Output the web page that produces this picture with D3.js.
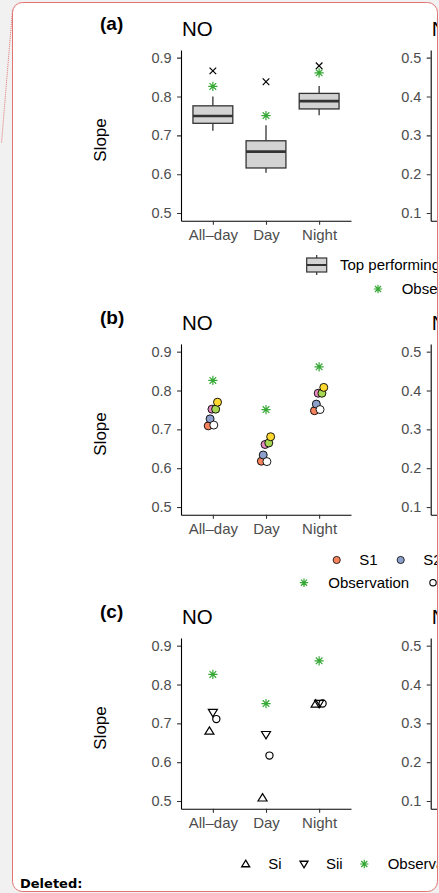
<!DOCTYPE html>
<html><head><meta charset="utf-8">
<script src="https://cdn.jsdelivr.net/npm/d3@7"></script>
<style>
html,body{margin:0;padding:0;background:#f1f1f1;}
svg{display:block;font-family:"Liberation Sans",Arial,Helvetica,sans-serif;}
</style></head><body>
<svg id="fig" width="439" height="893"></svg>
<script>
// ---- data ----
const categories = ["All\u2013day", "Day", "Night"];
const yTicksNO = [0.5, 0.6, 0.7, 0.8, 0.9];
const yTicksNO2 = [0.1, 0.2, 0.3, 0.4, 0.5];
const panelLetters = ["(a)", "(b)", "(c)"];

// (a) spread of the top performing simulations
const boxLower  = [0.712, 0.604, 0.752];
const boxQ1     = [0.731, 0.616, 0.768];
const boxMedian = [0.750, 0.658, 0.788];
const boxQ3     = [0.776, 0.686, 0.808];
const boxUpper  = [0.800, 0.726, 0.827];
const bestSimulation = [0.866, 0.838, 0.879];

// observed slope, shared by all panels
const observation = [0.826, 0.751, 0.861];

// (b) individual simulations
const seriesB = ["S1", "S2", "S3", "S4", "S5", "S6"];
const colorsB = ["#f8845f", "#8da0cb", "#e78ac3", "#ffffff", "#a6d854", "#ffd92f"];
const valuesB = [
  [0.709, 0.618, 0.748],
  [0.727, 0.634, 0.765],
  [0.752, 0.661, 0.793],
  [0.711, 0.617, 0.751],
  [0.752, 0.665, 0.793],
  [0.770, 0.681, 0.808]
];

// (c) simulation groups
const seriesC = ["Si", "Sii", "Siii"];
const valuesC = [
  [0.680, 0.508, 0.750],
  [0.728, 0.671, 0.751],
  [0.711, 0.617, 0.751]
];

// ---- drawing ----
const svg = d3.select("#fig");
const GREEN = "#36a836";
const FRAME = "#e27474";
const VIEW_W = 437;

// comment frame
svg.append("rect").attr("width", 439).attr("height", 893).attr("fill", "#f1f1f1");
svg.append("line").attr("x1", 12.5).attr("y1", 10).attr("x2", 1.5).attr("y2", 143)
  .attr("stroke", FRAME).attr("stroke-width", 1).attr("stroke-dasharray", "1 1");
svg.append("rect").attr("x", 12.5).attr("y", 2.5).attr("width", 425).attr("height", 889)
  .attr("rx", 10).attr("fill", "#fff").attr("stroke", FRAME).attr("stroke-width", 1);

svg.append("defs").append("clipPath").attr("id", "inside")
  .append("rect").attr("x", 13).attr("y", 3).attr("width", 424).attr("height", 888).attr("rx", 9.5);
const root = svg.append("g").attr("clip-path", "url(#inside)");

// marker paths
const asterisk = r => `M${-r},0H${r}M0,${-r}V${r}M${-r*0.72},${-r*0.72}L${r*0.72},${r*0.72}M${-r*0.72},${r*0.72}L${r*0.72},${-r*0.72}`;
const cross = r => `M${-r},${-r}L${r},${r}M${-r},${r}L${r},${-r}`;
const triUp = r => `M0,${-r}L${r*1.05},${r*0.72}L${-r*1.05},${r*0.72}Z`;
const triDown = r => `M0,${r}L${r*1.05},${-r*0.72}L${-r*1.05},${-r*0.72}Z`;

const PANEL_STEP = 294;

function drawAxes(g, x0, x1, domain, ticks, title, dy, xLabels) {
  const y = d3.scaleLinear().domain(domain).range([220.8 + dy, 49.9 + dy]);
  const x = d3.scalePoint().domain(categories).range([x0, x1]).padding(0.6);

  const ya = g.append("g").attr("transform", `translate(${x0},0)`)
    .call(d3.axisLeft(y).tickValues(ticks).tickSize(4).tickSizeOuter(0).tickPadding(5.3)
      .tickFormat(d3.format(".1f")));
  const xAxis = d3.axisBottom(x).tickSize(4).tickSizeOuter(0).tickPadding(4.5);
  if (!xLabels) xAxis.tickValues([]);
  const xa = g.append("g").attr("transform", `translate(0,${220.8 + dy})`).call(xAxis);
  [ya, xa].forEach(a => {
    a.select(".domain").attr("stroke", "#000").attr("stroke-width", 1.1);
    a.selectAll(".tick line").attr("stroke", "#333").attr("stroke-width", 1.1);
    a.selectAll(".tick text").attr("fill", "#4d4d4d")
      .style("font-family", '"Liberation Sans",Arial,sans-serif');
  });
  ya.selectAll(".tick text").attr("font-size", 14.5);
  xa.selectAll(".tick text").attr("font-size", 15);

  g.append("text").attr("x", x0 + 1).attr("y", 36 + dy).attr("font-size", 20.5)
    .attr("fill", "#000").text(title);
  return { x, y };
}

// legend entries are only laid out while they start inside the frame
const visible = lx => lx < VIEW_W;

for (let p = 0; p < 3; p++) {
  const dy = p * PANEL_STEP;
  const g = root.append("g");

  g.append("text").attr("x", 100).attr("y", 29.5 + dy).attr("font-size", 19)
    .attr("font-weight", "bold").text(panelLetters[p]);
  g.append("text").attr("transform", `translate(105.5,${140 + dy}) rotate(-90)`)
    .attr("text-anchor", "middle").attr("font-size", 17).text("Slope");

  const { x, y } = drawAxes(g, 181, 351, [0.48, 0.92], yTicksNO, "NO", dy, true);
  drawAxes(g, 430.7, 600.7, [0.08, 0.52], yTicksNO2, "NO2", dy, false);

  const step = x.step();

  if (p === 0) {
    const bw = step * 0.75;
    categories.forEach((c, i) => {
      const cx = x(c);
      g.append("line").attr("x1", cx).attr("x2", cx).attr("y1", y(boxUpper[i])).attr("y2", y(boxQ3[i]))
        .attr("stroke", "#333").attr("stroke-width", 1.3);
      g.append("line").attr("x1", cx).attr("x2", cx).attr("y1", y(boxQ1[i])).attr("y2", y(boxLower[i]))
        .attr("stroke", "#333").attr("stroke-width", 1.3);
      g.append("rect").attr("x", cx - bw / 2).attr("width", bw)
        .attr("y", y(boxQ3[i])).attr("height", y(boxQ1[i]) - y(boxQ3[i]))
        .attr("fill", "#d3d3d3").attr("stroke", "#333").attr("stroke-width", 1.3);
      g.append("line").attr("x1", cx - bw / 2).attr("x2", cx + bw / 2)
        .attr("y1", y(boxMedian[i])).attr("y2", y(boxMedian[i]))
        .attr("stroke", "#333").attr("stroke-width", 2.6);
      g.append("path").attr("transform", `translate(${cx},${y(bestSimulation[i])})`)
        .attr("d", cross(3.3)).attr("stroke", "#000").attr("stroke-width", 1.2).attr("fill", "none");
      g.append("path").attr("transform", `translate(${cx},${y(observation[i])})`)
        .attr("d", asterisk(4.6)).attr("stroke", GREEN).attr("stroke-width", 1.2).attr("fill", "none");
    });

    // legend: box key, then the observation key
    const lk = g.append("g").attr("transform", `translate(316.7,${265 + dy})`);
    lk.append("line").attr("y1", -10).attr("y2", 10).attr("stroke", "#333").attr("stroke-width", 1.2);
    lk.append("rect").attr("x", -10).attr("y", -7).attr("width", 20).attr("height", 14)
      .attr("fill", "#d3d3d3").attr("stroke", "#333").attr("stroke-width", 1.2);
    lk.append("line").attr("x1", -10).attr("x2", 10).attr("stroke", "#333").attr("stroke-width", 2);
    g.append("text").attr("x", 340).attr("y", 270.3 + dy).attr("font-size", 15).text("Top performing simulations");
    g.append("path").attr("transform", `translate(378,${289 + dy})`).attr("d", asterisk(4.2))
      .attr("stroke", GREEN).attr("stroke-width", 1.2).attr("fill", "none");
    g.append("text").attr("x", 401.7).attr("y", 294.3 + dy).attr("font-size", 15).text("Observation");
  }

  if (p === 1) {
    const n = seriesB.length;
    const dodge = step * 0.035;
    categories.forEach((c, i) => {
      g.append("path").attr("transform", `translate(${x(c)},${y(observation[i])})`)
        .attr("d", asterisk(4.6)).attr("stroke", GREEN).attr("stroke-width", 1.2).attr("fill", "none");
    });
    seriesB.forEach((s, k) => {
      const off = (k - (n - 1) / 2) * dodge;
      g.selectAll(null).data(valuesB[k]).join("circle")
        .attr("cx", (d, i) => x(categories[i]) + off).attr("cy", d => y(d)).attr("r", 4)
        .attr("fill", colorsB[k]).attr("stroke", "#000").attr("stroke-width", 0.9);
    });

    // legend rows: fill key, shape key
    seriesB.forEach((s, k) => {
      const lx = 336.7 + k * 64;
      if (!visible(lx)) return;
      g.append("circle").attr("cx", lx).attr("cy", 266 + dy).attr("r", 3.6)
        .attr("fill", colorsB[k]).attr("stroke", "#000").attr("stroke-width", 0.8);
      g.append("text").attr("x", lx + 22.6).attr("y", 271.3 + dy).attr("font-size", 15).text(s);
    });
    g.append("path").attr("transform", `translate(304,${288.7 + dy})`).attr("d", asterisk(4.2))
      .attr("stroke", GREEN).attr("stroke-width", 1.2).attr("fill", "none");
    g.append("text").attr("x", 328.3).attr("y", 294 + dy).attr("font-size", 15).text("Observation");
    g.append("circle").attr("cx", 433).attr("cy", 288.7 + dy).attr("r", 3.2)
      .attr("fill", "none").attr("stroke", "#000").attr("stroke-width", 1.1);
  }

  if (p === 2) {
    const shapes = [triUp, triDown, null];
    const dodge = step * 0.065;
    categories.forEach((c, i) => {
      g.append("path").attr("transform", `translate(${x(c)},${y(observation[i])})`)
        .attr("d", asterisk(4.6)).attr("stroke", GREEN).attr("stroke-width", 1.2).attr("fill", "none");
    });
    seriesC.forEach((s, k) => {
      const off = (k - 1) * dodge;
      valuesC[k].forEach((v, i) => {
        const cx = x(categories[i]) + off, cy = y(v);
        if (shapes[k]) {
          g.append("path").attr("transform", `translate(${cx},${cy})`).attr("d", shapes[k](4.3))
            .attr("fill", "none").attr("stroke", "#000").attr("stroke-width", 1.2);
        } else {
          g.append("circle").attr("cx", cx).attr("cy", cy).attr("r", 3.6)
            .attr("fill", "none").attr("stroke", "#000").attr("stroke-width", 1.2);
        }
      });
    });

    const ly = 276 + dy;
    g.append("path").attr("transform", `translate(245.7,${ly})`).attr("d", triUp(3.8))
      .attr("fill", "none").attr("stroke", "#000").attr("stroke-width", 1.3);
    g.append("text").attr("x", 268.3).attr("y", ly + 5.3).attr("font-size", 15).text("Si");
    g.append("path").attr("transform", `translate(304,${ly})`).attr("d", triDown(3.8))
      .attr("fill", "none").attr("stroke", "#000").attr("stroke-width", 1.3);
    g.append("text").attr("x", 326).attr("y", ly + 5.3).attr("font-size", 15).text("Sii");
    g.append("path").attr("transform", `translate(364.3,${ly})`).attr("d", asterisk(4.2))
      .attr("stroke", GREEN).attr("stroke-width", 1.2).attr("fill", "none");
    g.append("text").attr("x", 387.7).attr("y", ly + 5.3).attr("font-size", 15).text("Observation");
  }
}

svg.append("text").attr("x", 20).attr("y", 888.3)
  .style("font-family", '"DejaVu Sans",Verdana,sans-serif')
  .attr("font-size", 13).attr("font-weight", "bold").text("Deleted:");
</script>
</body></html>
